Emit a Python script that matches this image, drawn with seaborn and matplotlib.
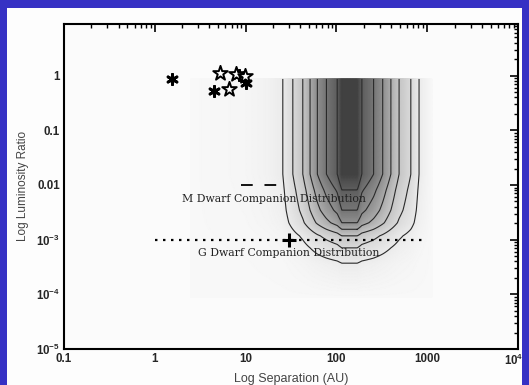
import numpy as np
import matplotlib
matplotlib.use("Agg")
import matplotlib.pyplot as plt
import matplotlib.patches as mpatches
import matplotlib.transforms as mtransforms
from matplotlib.ticker import FixedLocator, FixedFormatter, LogLocator, NullFormatter
import seaborn as sns

# ---------------- data ----------------
# filled asterisks (separation AU, luminosity ratio)
ast_sep = [1.55, 4.5, 8.5, 10.0]
ast_lum = [0.88, 0.52, 1.02, 0.72]
# open stars
star_sep = [5.2, 6.5, 7.8, 9.8]
star_lum = [1.13, 0.57, 1.06, 0.98]

# M dwarf limit (dashed) and G dwarf limit (dotted)
m_line_sep = [8.8, 24.0]
m_line_lum = [0.01, 0.01]
g_line_sep = [1.0, 900.0]
g_line_lum = [1e-3, 1e-3]
plus_sep = [30.0]
plus_lum = [1e-3]

# companion-distribution surface: separation profile and luminosity-ratio profile
sep_log = [0.40, 1.00, 1.25, 1.41, 1.52, 1.63, 1.71, 1.79, 1.89, 2.01, 2.06, 2.23,
           2.28, 2.41, 2.51, 2.60, 2.69, 2.82, 2.91, 3.00, 3.05]
sep_prof = [0.00, 0.03, 0.07, 0.125, 0.25, 0.375, 0.50, 0.625, 0.75, 0.875, 1.00, 1.00,
            0.875, 0.75, 0.625, 0.50, 0.375, 0.25, 0.125, 0.05, 0.00]
lum_log = [-4.05, -3.75, -3.43, -3.15, -2.93, -2.81, -2.69, -2.46, -2.09, -1.8, -0.06]
lum_prof = [0.00, 0.06, 0.125, 0.25, 0.375, 0.50, 0.625, 0.75, 0.875, 1.00, 1.00]
levels = [0.125, 0.25, 0.375, 0.50, 0.625, 0.75, 0.875]

x_ticks = [0.1, 1, 10, 100, 1000, 1e4]
x_labels = ["0.1", "1", "10", "100", "1000", r"$\mathbf{10^{4}}$"]
y_ticks = [1e-5, 1e-4, 1e-3, 0.01, 0.1, 1]
y_labels = [r"$\mathbf{10^{-5}}$", r"$\mathbf{10^{-4}}$", r"$\mathbf{10^{-3}}$", "0.01", "0.1", "1"]

# ---------------- style ----------------
sns.set_style("white")
plt.rcParams["font.family"] = ["Liberation Sans", "DejaVu Sans"]
plt.rcParams["mathtext.fontset"] = "custom"
plt.rcParams["mathtext.rm"] = "Liberation Sans:bold"
plt.rcParams["mathtext.bf"] = "Liberation Sans:bold"

fig = plt.figure(figsize=(5.29, 3.85), dpi=100)
fig.patch.set_facecolor("#3631c4")
bg = mpatches.Rectangle((7 / 529, 0), 515 / 529, (385 - 8) / 385,
                        transform=fig.transFigure, facecolor="#fdfdfd",
                        edgecolor="none", zorder=-10)
fig.add_artist(bg)
ax = fig.add_axes([64 / 529, (385 - 349) / 385, (518 - 64) / 529, (349 - 23.5) / 385])
ax.set_zorder(1)
ax.set_facecolor("#fbfbfb")

# surface: product of the separation and luminosity-ratio profiles
u = np.linspace(sep_log[0], sep_log[-1], 400)
v = np.linspace(lum_log[0], lum_log[-1], 400)
G = np.interp(u, sep_log, sep_prof)
H = np.interp(v, lum_log, lum_prof)
F = np.outer(H, G)
X, Y = np.meshgrid(10 ** u, 10 ** v)
ax.pcolormesh(X, Y, F, cmap="Greys", vmin=-0.08, vmax=1.28, shading="gouraud", zorder=1)
ax.contour(X, Y, F, levels=levels, colors="#2a2a2a", linewidths=0.8, zorder=2)

# limit lines
sns.lineplot(x=m_line_sep, y=m_line_lum, ax=ax, color="black", lw=1.3, zorder=3)
ax.lines[-1].set_dashes([6.5, 6.5])
sns.lineplot(x=g_line_sep, y=g_line_lum, ax=ax, color="black", lw=1.6, zorder=3)
ax.lines[-1].set_dashes([1.1, 2.5])
sns.scatterplot(x=plus_sep, y=plus_lum, ax=ax, marker="+", s=110, color="black",
                linewidth=2.2, zorder=4)

# stars
sns.scatterplot(x=ast_sep, y=ast_lum, ax=ax, marker=(6, 2, 0), s=55, color="black",
                linewidth=2.0, zorder=5)
sns.scatterplot(x=star_sep, y=star_lum, ax=ax, marker="*", s=120, facecolor="white",
                edgecolor="black", linewidth=1.4, zorder=5)

# annotations
ax.text(2.0, 0.0056, "M Dwarf Companion Distribution", family="DejaVu Serif",
        fontsize=7.8, color="#222222", va="center", ha="left", zorder=6)
ax.text(3.0, 5.6e-4, "G Dwarf Companion Distribution", family="DejaVu Serif",
        fontsize=7.8, color="#222222", va="center", ha="left", zorder=6)

# axes
ax.set_xscale("log")
ax.set_yscale("log")
ax.set_xlim(0.1, 1e4)
ax.set_ylim(1e-5, 9)
ax.xaxis.set_major_locator(FixedLocator(x_ticks))
ax.xaxis.set_major_formatter(FixedFormatter(x_labels))
ax.yaxis.set_major_locator(FixedLocator(y_ticks))
ax.yaxis.set_major_formatter(FixedFormatter(y_labels))
ax.xaxis.set_minor_locator(LogLocator(base=10, subs=np.arange(2, 10), numticks=20))
ax.yaxis.set_minor_locator(LogLocator(base=10, subs=np.arange(2, 10), numticks=20))
ax.xaxis.set_minor_formatter(NullFormatter())
ax.yaxis.set_minor_formatter(NullFormatter())
ax.tick_params(which="both", direction="in", top=True, right=True, color="black")
ax.tick_params(which="major", length=6, width=1.2)
ax.tick_params(which="minor", length=3, width=1.0)
ax.tick_params(axis="x", pad=3)
ax.tick_params(axis="y", pad=3)
for lab in ax.get_xticklabels() + ax.get_yticklabels():
    lab.set_fontweight("bold")
    lab.set_fontsize(8.3)
for s in ax.spines.values():
    s.set_linewidth(1.5)
    s.set_color("black")

# nudge the last x tick label left so it clears the blue frame
last = ax.xaxis.get_major_ticks()[-1].label1
last.set_transform(last.get_transform() +
                   mtransforms.ScaledTranslation(-4 / 100, 0, fig.dpi_scale_trans))

ax.set_xlabel("Log Separation (AU)", fontsize=9, color="#444444", labelpad=3)
ax.set_ylabel("Log Luminosity Ratio", fontsize=8.5, color="#444444", labelpad=5)

fig.savefig("out.png", dpi=100, facecolor=fig.get_facecolor())
